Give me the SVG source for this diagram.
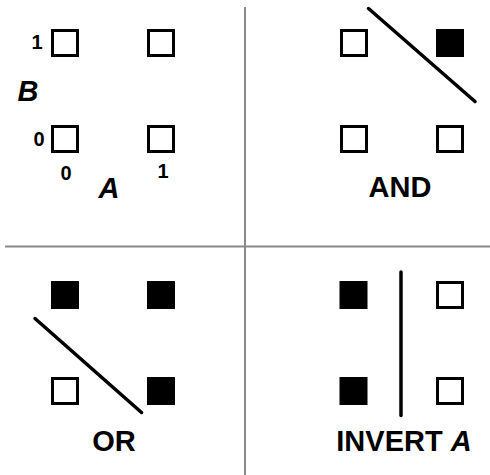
<svg xmlns="http://www.w3.org/2000/svg" width="490" height="475" viewBox="0 0 490 475">
<style>
.cell{fill:#fff;stroke:#000;stroke-width:3}
.on{fill:#000;stroke:#000;stroke-width:3}
.div{stroke:#8a8a8a;stroke-width:2}
.cut{stroke:#000;stroke-width:3.5;stroke-linecap:round}
text{font-family:"Liberation Sans",Arial,sans-serif;font-weight:bold;fill:#000;text-anchor:middle}
.dig{font-size:20px}
.lbl{font-size:29px}
.it{font-style:italic}
</style>
<rect width="490" height="475" fill="#fff"/>
<g id="dividers">
<line class="div" x1="245" y1="7" x2="245" y2="475"/>
<line class="div" x1="5" y1="246.5" x2="490" y2="246.5"/>
</g>
<g id="key">
<rect class="cell" x="52.5" y="30.5" width="25" height="25"/>
<rect class="cell" x="148.5" y="30.5" width="25" height="25"/>
<rect class="cell" x="52.5" y="126.5" width="25" height="25"/>
<rect class="cell" x="148.5" y="126.5" width="25" height="25"/>
<text class="dig" x="37" y="49">1</text>
<text class="dig" x="39" y="146">0</text>
<text class="dig" x="66" y="180">0</text>
<text class="dig" x="163" y="178">1</text>
<text class="lbl it" x="28" y="101">B</text>
<text class="lbl it" x="109" y="198">A</text>
</g>
<g id="and">
<rect class="cell" x="341.5" y="30.5" width="25" height="25"/>
<rect class="on" x="437.5" y="30.5" width="25" height="25"/>
<rect class="cell" x="341.5" y="126.5" width="25" height="25"/>
<rect class="cell" x="437.5" y="126.5" width="25" height="25"/>
<text class="lbl" x="400" y="197">AND</text>
</g>
<g id="or">
<rect class="on" x="52.5" y="282.5" width="25" height="25"/>
<rect class="on" x="148.5" y="282.5" width="25" height="25"/>
<rect class="cell" x="52.5" y="378.5" width="25" height="25"/>
<rect class="on" x="148.5" y="378.5" width="25" height="25"/>
<text class="lbl" x="114" y="451">OR</text>
</g>
<g id="invert">
<rect class="on" x="341" y="282.5" width="25" height="25"/>
<rect class="cell" x="437.5" y="282.5" width="25" height="25"/>
<rect class="on" x="341" y="378.5" width="25" height="25"/>
<rect class="cell" x="437.5" y="378.5" width="25" height="25"/>
<text class="lbl" x="404" y="451">INVERT <tspan class="it">A</tspan></text>
</g>
<g id="connectors">
<line class="cut" x1="368.5" y1="8.5" x2="475" y2="101.5"/>
<line class="cut" x1="35" y1="318.5" x2="141.5" y2="412.5"/>
<line class="cut" x1="401" y1="272" x2="401" y2="415.5"/>
</g>
</svg>
